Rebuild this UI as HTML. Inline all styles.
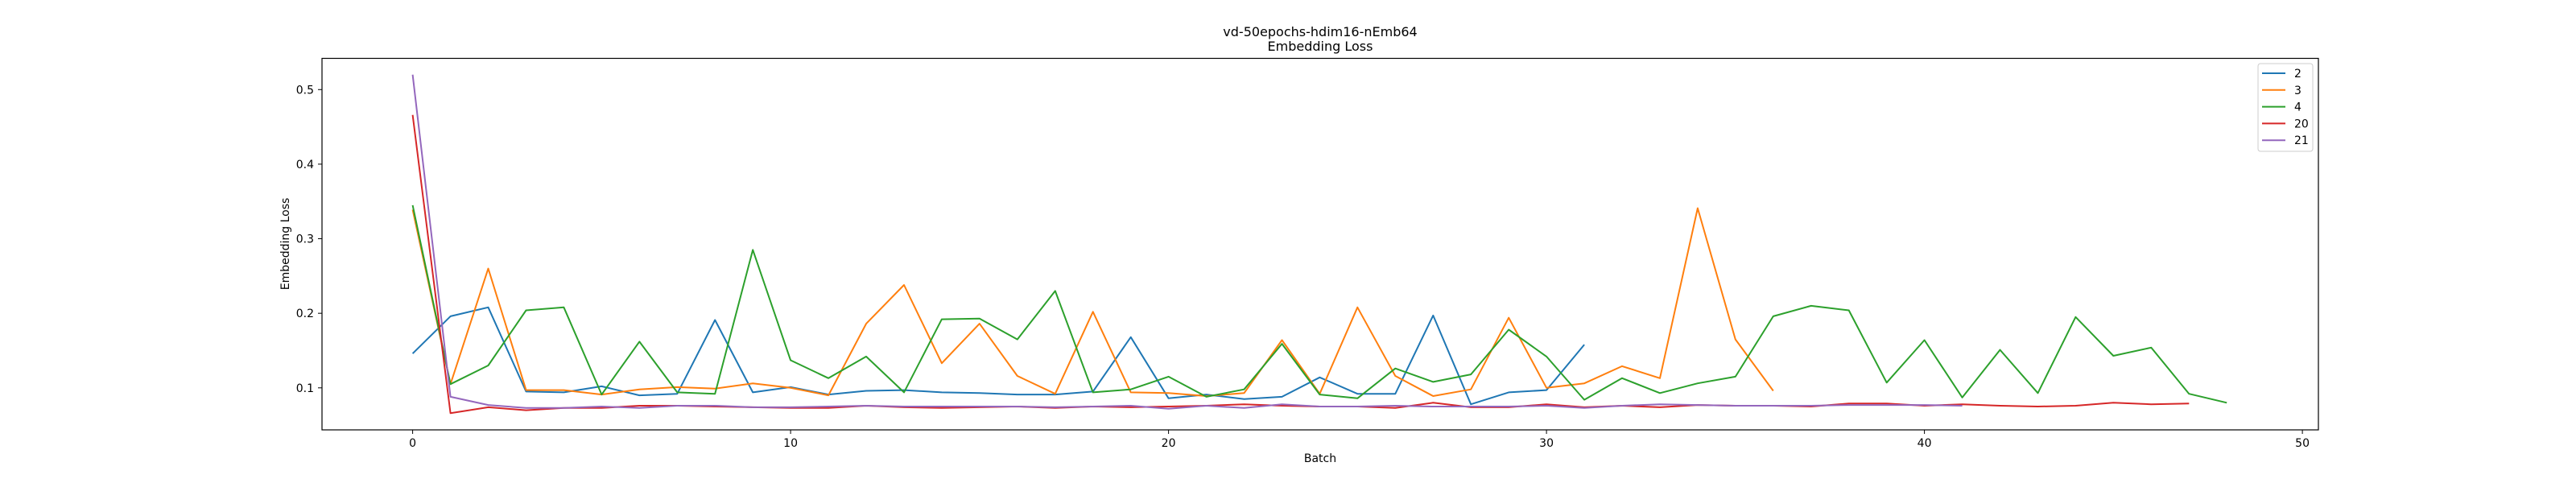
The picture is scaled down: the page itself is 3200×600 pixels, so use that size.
<!DOCTYPE html>
<html><head><meta charset="utf-8"><style>
html,body{margin:0;padding:0;background:#fff;}
svg{display:block;font-family:"DejaVu Sans","Liberation Sans",sans-serif;}
</style></head><body>
<svg id="chart" width="3200" height="600" viewBox="0 0 3200 600">
<rect width="3200" height="600" fill="#fff"/>
<text x="1640" y="45" font-size="16" text-anchor="middle">vd-50epochs-hdim16-nEmb64</text>
<text x="1640" y="63" font-size="16" text-anchor="middle">Embedding Loss</text>
<g id="plot"></g>
<rect x="400" y="72.5" width="2480" height="461.5" fill="none" stroke="#000" stroke-width="1.2"/>
<text x="1640" y="574" font-size="14" text-anchor="middle">Batch</text>
<text transform="translate(359,303) rotate(-90)" font-size="14" text-anchor="middle">Embedding Loss</text>
<g id="legend"></g>
</svg>
<script>
const seriesNames = ["2","3","4","20","21"];
const seriesColors = ["#1f77b4","#ff7f0e","#2ca02c","#d62728","#9467bd"];
const xTicks = [0,10,20,30,40,50];
const yTicks = [0.1,0.2,0.3,0.4,0.5];
const s2 = [0.146,0.196,0.208,0.095,0.094,0.102,0.090,0.092,0.191,0.094,0.101,0.091,0.096,0.097,0.094,0.093,0.091,0.091,0.095,0.168,0.086,0.091,0.085,0.088,0.114,0.092,0.092,0.197,0.078,0.094,0.097,0.158];
const s3 = [0.339,0.105,0.260,0.097,0.097,0.091,0.098,0.101,0.099,0.106,0.100,0.090,0.186,0.238,0.133,0.186,0.116,0.092,0.202,0.094,0.093,0.089,0.093,0.164,0.092,0.208,0.116,0.089,0.098,0.194,0.100,0.106,0.129,0.113,0.341,0.165,0.096];
const s4 = [0.345,0.105,0.130,0.204,0.208,0.091,0.162,0.094,0.092,0.285,0.137,0.113,0.142,0.094,0.192,0.193,0.165,0.230,0.094,0.098,0.115,0.088,0.098,0.159,0.091,0.086,0.126,0.108,0.118,0.178,0.142,0.084,0.113,0.093,0.106,0.115,0.196,0.210,0.204,0.107,0.164,0.087,0.151,0.093,0.195,0.143,0.154,0.092,0.080];
const s20 = [0.466,0.066,0.074,0.070,0.073,0.073,0.076,0.076,0.075,0.074,0.073,0.073,0.076,0.074,0.073,0.074,0.075,0.073,0.075,0.074,0.075,0.076,0.078,0.076,0.075,0.075,0.073,0.080,0.074,0.074,0.078,0.074,0.076,0.074,0.077,0.076,0.076,0.075,0.079,0.079,0.076,0.078,0.076,0.075,0.076,0.080,0.078,0.079];
const s21 = [0.520,0.088,0.077,0.073,0.073,0.075,0.073,0.076,0.076,0.074,0.074,0.075,0.076,0.075,0.075,0.075,0.075,0.074,0.075,0.076,0.072,0.076,0.073,0.078,0.075,0.075,0.076,0.075,0.075,0.075,0.076,0.073,0.076,0.078,0.077,0.076,0.076,0.076,0.077,0.077,0.077,0.076];
const allSeries = [s2,s3,s4,s20,s21];

const NS="http://www.w3.org/2000/svg";
function xs(v){return 512.6+v*46.95;}
function ys(v){return 481.8-(v-0.1)*926.3;}
const plot=document.getElementById('plot');
function mk(tag,attrs,parent){const e=document.createElementNS(NS,tag);for(const k in attrs)e.setAttribute(k,attrs[k]);parent.appendChild(e);return e;}

xTicks.forEach(t=>{
  const g=mk('g',{},plot);
  
  
  mk('line',{x1:xs(t),x2:xs(t),y1:534,y2:539,stroke:'#000','stroke-width':1},g);
  const tx=mk('text',{x:xs(t),y:555,'font-size':14,'text-anchor':'middle'},g);
  tx.textContent=t;
});
yTicks.forEach(t=>{
  const g=mk('g',{},plot);
  
  
  mk('line',{x1:395,x2:400,y1:ys(t),y2:ys(t),stroke:'#000','stroke-width':1},g);
  const tx=mk('text',{x:390,y:ys(t)+5,'font-size':14,'text-anchor':'end'},g);
  tx.textContent=t.toFixed(1);
});
allSeries.forEach((s,i)=>{
  const pts=s.map((v,j)=>xs(j).toFixed(1)+','+ys(v).toFixed(1)).join(' ');
  const pl=mk('polyline',{points:pts,fill:'none',stroke:seriesColors[i],'stroke-width':2,'stroke-linejoin':'round'},plot);
  
  
});
const lg=document.getElementById('legend');
mk('rect',{x:2805,y:79,width:68,height:109,rx:3,fill:'#fff',stroke:'#ccc','stroke-width':1},lg);
seriesNames.forEach((n,i)=>{
  const g=mk('g',{},lg);
  
  
  const y=91+i*20.8;
  mk('line',{x1:2810,x2:2839,y1:y,y2:y,stroke:seriesColors[i],'stroke-width':2},g);
  const t=mk('text',{x:2850,y:y+5,'font-size':14},g);
  t.textContent=n;
});
</script>
</body></html>
